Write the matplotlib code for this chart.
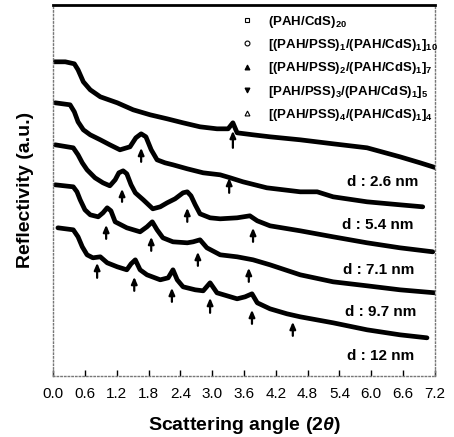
import numpy as np
import matplotlib
matplotlib.use("Agg")
import matplotlib.pyplot as plt

plt.rcParams["font.family"] = ["Liberation Sans", "DejaVu Sans"]
plt.rcParams["mathtext.fontset"] = "custom"
plt.rcParams["mathtext.rm"] = "Liberation Sans:bold"
plt.rcParams["mathtext.it"] = "Liberation Sans:italic:bold"
plt.rcParams["mathtext.bf"] = "Liberation Sans:bold"

# --- data (2theta in degrees, reflectivity in arbitrary offset units) ---
x1 = [0.02, 0.23, 0.40, 0.47, 0.57, 0.70, 0.89, 1.21, 1.51, 1.83, 2.15, 2.45, 2.77, 3.09,
      3.30, 3.39, 3.47, 3.77, 4.09, 4.66, 5.28, 5.92, 6.54, 6.92, 7.22]
y1 = [31.4, 31.4, 31.2, 30.6, 29.4, 28.6, 27.9, 27.3, 26.6, 26.1, 25.7, 25.3, 24.9, 24.7,
      24.7, 25.3, 24.3, 24.1, 23.9, 23.6, 23.2, 22.8, 21.9, 21.3, 20.8]

x2 = [0.04, 0.32, 0.40, 0.47, 0.57, 0.70, 0.89, 1.07, 1.26, 1.45, 1.56, 1.66, 1.75, 1.85, 1.96,
      2.11, 2.26, 2.53, 2.83, 3.15, 3.34, 3.58, 4.03, 4.66, 4.98, 5.28, 5.92, 6.54, 6.97]
y2 = [27.3, 27.1, 26.4, 25.4, 24.6, 24.1, 23.6, 23.1, 22.6, 22.9, 23.8, 24.2, 23.9, 22.6, 21.6,
      21.3, 21.1, 20.7, 20.3, 20.1, 19.8, 19.4, 18.8, 18.4, 18.4, 17.9, 17.4, 17.1, 16.9]

x3 = [0.04, 0.38, 0.47, 0.55, 0.64, 0.79, 0.94, 1.07, 1.17, 1.24, 1.32, 1.39, 1.47, 1.55, 1.70,
      1.88, 2.02, 2.15, 2.30, 2.45, 2.53, 2.60, 2.68, 2.77, 2.96, 3.15, 3.47, 3.71, 3.85, 4.09,
      4.66, 5.28, 5.92, 6.54, 7.16]
y3 = [23.1, 22.8, 22.1, 21.3, 20.6, 19.8, 19.3, 19.0, 19.6, 20.3, 20.5, 20.2, 19.1, 18.3, 17.6,
      16.7, 16.9, 17.3, 17.7, 18.3, 18.4, 18.0, 17.1, 16.2, 15.8, 15.7, 15.8, 16.0, 15.5, 15.0,
      14.5, 13.9, 13.3, 12.8, 12.4]

x4 = [0.04, 0.38, 0.45, 0.51, 0.60, 0.70, 0.85, 0.94, 1.02, 1.09, 1.17, 1.39, 1.64, 1.77, 1.87,
      1.96, 2.07, 2.26, 2.53, 2.64, 2.77, 2.90, 3.15, 3.47, 3.77, 4.09, 4.66, 5.28, 5.92, 6.54, 7.20]
y4 = [19.1, 18.9, 18.4, 17.6, 16.6, 16.1, 15.9, 16.3, 16.8, 16.5, 15.4, 14.8, 14.4, 14.9, 15.4,
      14.6, 13.8, 13.4, 13.3, 13.4, 13.6, 12.8, 12.1, 11.9, 11.6, 11.1, 10.1, 9.4, 9.0, 8.6, 8.3]

x5 = [0.09, 0.38, 0.47, 0.55, 0.64, 0.75, 0.89, 1.02, 1.21, 1.39, 1.47, 1.55, 1.64, 1.77, 2.02,
      2.17, 2.26, 2.34, 2.45, 2.68, 2.83, 2.96, 3.09, 3.47, 3.62, 3.75, 3.85, 4.09, 4.41, 4.66,
      5.28, 5.92, 6.54, 7.05]
y5 = [14.8, 14.6, 13.9, 12.9, 12.1, 11.8, 11.9, 11.3, 10.9, 10.6, 11.2, 11.6, 10.6, 10.1, 9.6,
      9.8, 10.6, 9.6, 8.9, 8.6, 8.5, 9.3, 8.3, 7.7, 7.9, 8.2, 7.3, 6.7, 6.2, 5.9,
      5.3, 4.6, 4.1, 3.8]

series_x = [x1, x2, x3, x4, x5]
series_y = [y1, y2, y3, y4, y5]
labels = [r"(PAH/CdS)$_{20}$",
          r"[(PAH/PSS)$_1$/(PAH/CdS)$_1$]$_{10}$",
          r"[(PAH/PSS)$_2$/(PAH/CdS)$_1$]$_7$",
          r"[PAH/PSS)$_3$/(PAH/CdS)$_1$]$_5$",
          r"[(PAH/PSS)$_4$/(PAH/CdS)$_1$]$_4$"]
markers = ["s", "o", "^", "v", "^"]
fills = ["white", "white", "black", "black", "white"]

# Bragg peak arrows: x position, tip (top) and tail (bottom)
arrow_x = [3.39, 1.66, 3.32, 1.30, 2.53, 3.77, 1.00, 1.85, 2.73, 3.69,
           0.83, 1.53, 2.24, 2.96, 3.75, 4.52]
arrow_tip = [24.5, 22.8, 19.8, 18.7, 16.8, 14.8, 15.1, 13.9, 12.4, 10.8,
             11.3, 9.9, 8.8, 7.8, 6.6, 5.4]
arrow_tail = [22.8, 21.4, 18.3, 17.4, 15.4, 13.4, 13.7, 12.5, 11.0, 9.4,
              9.8, 8.5, 7.4, 6.3, 5.2, 4.0]

d_labels = ["d : 2.6 nm", "d : 5.4 nm", "d : 7.1 nm", "d : 9.7 nm", "d : 12 nm"]
d_x = [6.22, 6.13, 6.13, 6.17, 6.17]
d_y = [19.4, 15.1, 10.6, 6.4, 2.0]

fig = plt.figure(figsize=(4.54, 4.37), dpi=100)
ax = fig.add_axes([0.117, 0.140, 0.841, 0.849])

for xs, ys, m, fc, lab in zip(series_x, series_y, markers, fills, labels):
    ax.plot(xs, ys, color="black", lw=3.4, solid_capstyle="round",
            solid_joinstyle="round", zorder=2)
    ax.plot([], [], linestyle="none", marker=m, ms=3.5, mfc=fc, mec="black",
            mew=0.8, label=lab)

for xa, t, b in zip(arrow_x, arrow_tip, arrow_tail):
    ax.annotate("", xy=(xa, t), xytext=(xa, b),
                arrowprops=dict(arrowstyle="-|>,head_width=0.17,head_length=0.4",
                                color="black", lw=1.6, shrinkA=0, shrinkB=0))

for s, xd, yd in zip(d_labels, d_x, d_y):
    ax.text(xd, yd, s, ha="center", va="center", fontsize=11, fontweight="bold")

ax.set_xlim(0, 7.2)
ax.set_ylim(0, 37.1)
ax.set_xticks(np.arange(0, 7.21, 0.6))
ax.set_xticklabels([f"{v:.1f}" for v in np.arange(0, 7.21, 0.6)], fontsize=11)
ax.set_yticks([])
ax.tick_params(axis="x", direction="in", length=4, width=1, pad=8)

for side in ["left", "right", "bottom"]:
    ax.spines[side].set_linestyle(":")
    ax.spines[side].set_color("#777777")
    ax.spines[side].set_linewidth(1)
ax.spines["top"].set_linewidth(2)

ax.set_xlabel(r"Scattering angle (2$\theta$)", fontsize=14, fontweight="bold", labelpad=10)
ax.set_ylabel("Reflectivity (a.u.)", fontsize=14, fontweight="bold", labelpad=14)

ax.legend(loc="upper left", bbox_to_anchor=(0.48, 0.99), frameon=False,
          prop={"size": 9.5, "weight": "bold"}, handlelength=0.8,
          handletextpad=1.2, labelspacing=0.55, borderaxespad=0)

fig.savefig("out.png", dpi=100)
